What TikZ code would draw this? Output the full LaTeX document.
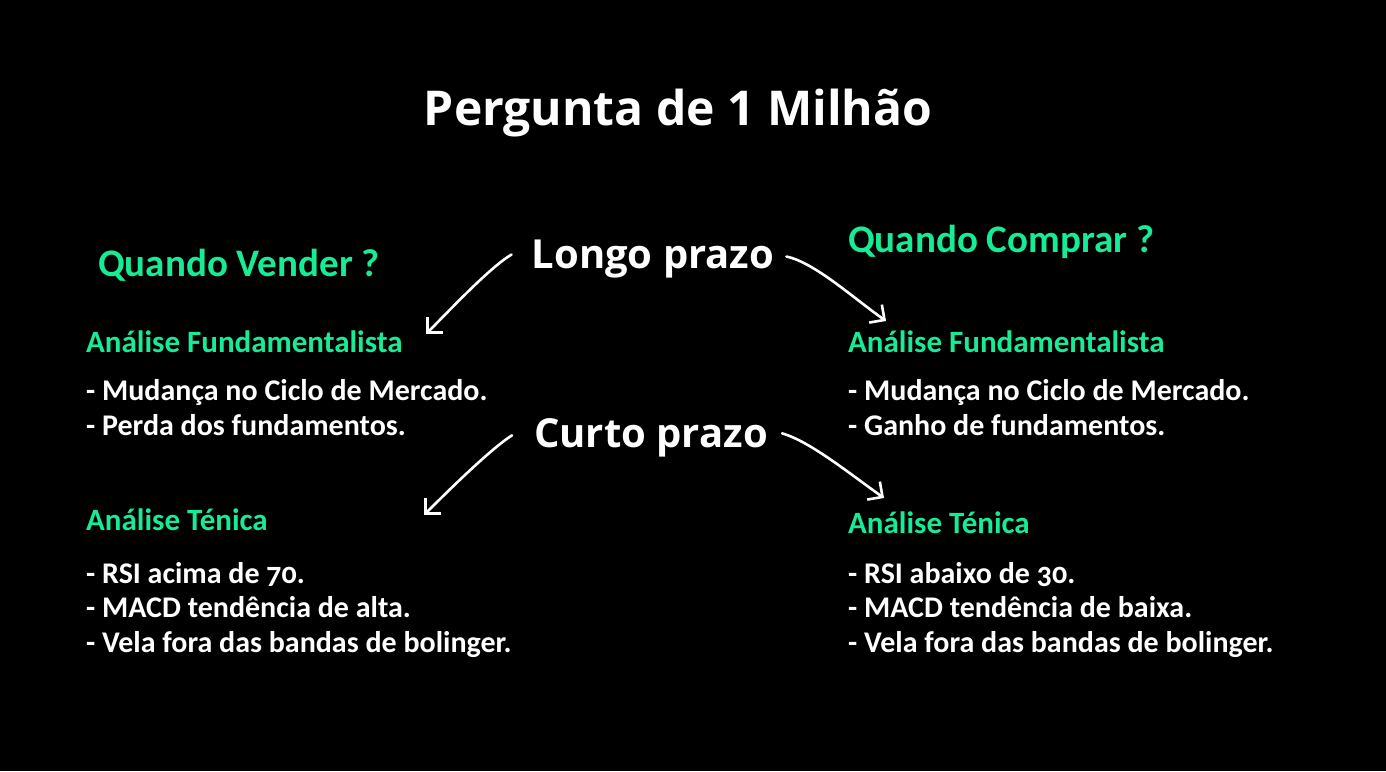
\documentclass[tikz,border=0pt]{standalone}
\usepackage{fontspec}
\setmainfont{Carlito}[Numbers=OldStyle]
\newfontfamily\headfont{Open Sans}
\usetikzlibrary{arrows.meta}
\definecolor{mgreen}{RGB}{22,236,150}
\tikzset{
  title/.style={text=white,font=\headfont\bfseries\fontsize{48}{52}\selectfont,inner sep=0pt},
  term/.style={text=white,font=\headfont\bfseries\fontsize{40}{44}\selectfont,inner sep=0pt},
  question/.style={text=mgreen,font=\bfseries\fontsize{39}{43}\selectfont,anchor=base west,inner sep=0pt},
  heading/.style={text=mgreen,font=\bfseries\fontsize{31}{35}\selectfont,anchor=base west,inner sep=0pt},
  item/.style={text=white,font=\bfseries\fontsize{30}{34}\selectfont,anchor=base west,inner sep=0pt},
  hand/.style={draw=white,line width=2.6pt,line cap=round,-{Straight Barb[length=11pt,width=22pt,line width=2.6pt]}}
}
\begin{document}
\begin{tikzpicture}[x=1pt,y=-1pt]
\fill[black] (0,0) rectangle (1386,771);
\useasboundingbox (0,0) rectangle (1386,771);
\node[title,anchor=base] (t) at (678,125) {Pergunta de 1 Milhão};
\node[term,anchor=base] (longo) at (653,268) {Longo prazo};
\node[term,anchor=base] (curto) at (651,447) {Curto prazo};
\node[question] (qv) at (98,276) {Quando Vender ?};
\node[question] (qc) at (848,252) {Quando Comprar ?};
\node[heading] (fl) at (86,352) {Análise Fundamentalista};
\node[heading] (fr) at (848,352) {Análise Fundamentalista};
\node[item] (fl1) at (86,400) {- Mudança no Ciclo de Mercado.};
\node[item] (fl2) at (86,435) {- Perda dos fundamentos.};
\node[item] (fr1) at (848,400) {- Mudança no Ciclo de Mercado.};
\node[item] (fr2) at (848,435) {- Ganho de fundamentos.};
\node[heading] (tl) at (86,530) {Análise Ténica};
\node[heading] (tr) at (848,533) {Análise Ténica};
\node[item] (tl1) at (86,583) {- RSI acima de 70.};
\node[item] (tl2) at (86,617) {- MACD tendência de alta.};
\node[item] (tl3) at (86,652) {- Vela fora das bandas de bolinger.};
\node[item] (tr1) at (848,583) {- RSI abaixo de 30.};
\node[item] (tr2) at (848,617) {- MACD tendência de baixa.};
\node[item] (tr3) at (848,652) {- Vela fora das bandas de bolinger.};
\coordinate (a1) at (426,334);
\coordinate (a2) at (886,321);
\coordinate (a3) at (424,515);
\coordinate (a4) at (884,498);
\draw[hand] (longo.west) ++(-20,-4) .. controls +(-22,13) and +(22,-22) .. (a1);
\draw[hand] (longo.east) ++(12,-2) .. controls +(28,6) and +(-34,-24) .. (a2);
\draw[hand] (curto.west) ++(-22,-2) .. controls +(-22,14) and +(22,-22) .. (a3);
\draw[hand] (curto.east) ++(14,-4) .. controls +(28,8) and +(-34,-24) .. (a4);
\end{tikzpicture}
\end{document}
